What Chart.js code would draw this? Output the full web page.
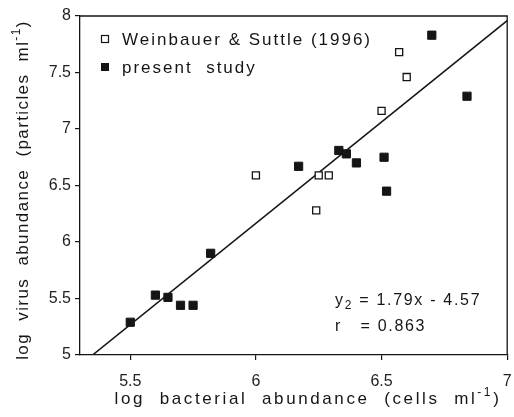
<!DOCTYPE html>
<html lang="en">
<head>
  <meta charset="UTF-8" />
  <title>Virus vs bacterial abundance</title>
  <script src="https://cdn.jsdelivr.net/npm/chart.js"></script>
  <style>
    body {
      margin: 0;
      padding: 0;
      background: #ffffff;
    }
    canvas {
      display: block;
    }
  </style>
</head>
<body>

  <canvas id="abundanceChart" width="514" height="417"></canvas>

  <script>
    // Weinbauer & Suttle (1996) - open squares
    const weinX = [6.57, 6.60, 6.50, 6.00, 6.25, 6.29, 6.24];
    const weinY = [7.68, 7.46, 7.16, 6.59, 6.59, 6.59, 6.28];

    // present study - filled squares
    const presentX = [6.70, 6.84, 6.33, 6.36, 6.17, 6.40, 6.51, 6.52, 5.82, 5.60, 5.65, 5.70, 5.75, 5.50];
    const presentY = [7.83, 7.29, 6.81, 6.78, 6.67, 6.70, 6.75, 6.45, 5.90, 5.53, 5.51, 5.44, 5.44, 5.29];

    // regression line end points (y2 = 1.79x - 4.57)
    const fitX = [5.35, 7.0];
    const fitY = [5.0, 7.96];

    const xTicks = [5.5, 6, 6.5, 7];
    const yTicks = [5, 5.5, 6, 6.5, 7, 7.5, 8];

    const ink = '#151515';
    const font = "'Liberation Sans', Arial, sans-serif";

    const toPoints = (xs, ys) => xs.map((x, i) => ({ x: x, y: ys[i] }));

    // draw text made of parts (for super/subscripts), with letter spacing
    function drawParts(ctx, parts, x, y, align, spacing) {
      ctx.letterSpacing = spacing + 'px';
      let total = 0;
      parts.forEach(p => {
        ctx.font = p.size + 'px ' + font;
        p.w = ctx.measureText(p.t).width;
        total += p.w;
      });
      let cx = align === 'center' ? x - total / 2 : x;
      ctx.textAlign = 'left';
      ctx.textBaseline = 'middle';
      parts.forEach(p => {
        ctx.font = p.size + 'px ' + font;
        ctx.fillText(p.t, cx, y + (p.dy || 0));
        cx += p.w;
      });
      ctx.letterSpacing = '0px';
    }

    const decorations = {
      id: 'decorations',
      afterDraw(chart) {
        const ctx = chart.ctx;
        const a = chart.chartArea;
        ctx.save();

        // top and right frame
        ctx.strokeStyle = ink;
        ctx.lineWidth = 1.3;
        ctx.beginPath();
        ctx.moveTo(a.left, a.top);
        ctx.lineTo(a.right, a.top);
        ctx.lineTo(a.right, a.bottom);
        ctx.stroke();

        ctx.fillStyle = ink;

        // x axis title
        drawParts(ctx, [
          { t: 'log  bacterial  abundance  (cells  ml', size: 17 },
          { t: '-1', size: 12, dy: -6 },
          { t: ')', size: 17 }
        ], 308, 399, 'center', 2.6);

        // y axis title
        ctx.save();
        ctx.translate(23, 190);
        ctx.rotate(-Math.PI / 2);
        drawParts(ctx, [
          { t: 'log  virus  abundance  (particles  ml', size: 17 },
          { t: '-1', size: 12, dy: -6 },
          { t: ')', size: 17 }
        ], 0, 0, 'center', 1.4);
        ctx.restore();

        // legend
        ctx.lineWidth = 1.2;
        ctx.strokeRect(101.5, 35.5, 7, 7);
        ctx.fillRect(101, 63, 8, 8);
        drawParts(ctx, [{ t: 'Weinbauer & Suttle (1996)', size: 17 }], 122, 40, 'left', 2.0);
        drawParts(ctx, [{ t: 'present  study', size: 17 }], 122, 68, 'left', 2.0);

        // regression annotation
        drawParts(ctx, [
          { t: 'y', size: 16 },
          { t: '2', size: 12, dy: 5 },
          { t: ' = 1.79x - 4.57', size: 16 }
        ], 335, 301, 'left', 1.7);
        drawParts(ctx, [{ t: 'r   = 0.863', size: 16 }], 335, 327, 'left', 1.7);

        ctx.restore();
      }
    };

    const ctx = document.getElementById('abundanceChart').getContext('2d');
    const chart = new Chart(ctx, {
      type: 'scatter',
      data: {
        datasets: [
          {
            label: 'Weinbauer & Suttle (1996)',
            data: toPoints(weinX, weinY),
            pointStyle: 'rect',
            pointRadius: 5.0,
            backgroundColor: '#ffffff',
            borderColor: ink,
            borderWidth: 1.3,
            order: 1
          },
          {
            label: 'present study',
            data: toPoints(presentX, presentY),
            pointStyle: 'rect',
            pointRadius: 5.8,
            backgroundColor: ink,
            borderColor: ink,
            borderWidth: 1,
            order: 2
          },
          {
            type: 'line',
            label: 'fit',
            data: toPoints(fitX, fitY),
            borderColor: ink,
            borderWidth: 1.6,
            pointRadius: 0,
            fill: false,
            order: 3
          }
        ]
      },
      options: {
        responsive: false,
        animation: false,
        layout: {
          padding: { left: 0, top: 16, right: 3, bottom: 0 }
        },
        plugins: {
          legend: { display: false },
          tooltip: { enabled: false }
        },
        scales: {
          x: {
            type: 'linear',
            min: 5.3,
            max: 7,
            afterBuildTicks: s => { s.ticks = xTicks.map(v => ({ value: v })); },
            afterFit: s => { s.height = 62; s.paddingLeft = 0; s.paddingRight = 0; },
            border: { display: true, color: ink, width: 1.3 },
            grid: { display: true, drawOnChartArea: false, drawTicks: true, tickLength: 5, color: ink, lineWidth: 1.2 },
            ticks: {
              padding: 12,
              color: '#222',
              font: { family: font, size: 16 },
              callback: v => String(v)
            }
          },
          y: {
            type: 'linear',
            min: 5,
            max: 8,
            afterBuildTicks: s => { s.ticks = yTicks.map(v => ({ value: v })); },
            afterFit: s => { s.width = 80; s.paddingTop = 0; s.paddingBottom = 0; },
            border: { display: true, color: ink, width: 1.3 },
            grid: { display: true, drawOnChartArea: false, drawTicks: true, tickLength: 5, color: ink, lineWidth: 1.2 },
            ticks: {
              padding: 4,
              color: '#222',
              font: { family: font, size: 16 },
              callback: v => String(v)
            }
          }
        }
      },
      plugins: [decorations]
    });
  </script>

</body>
</html>
